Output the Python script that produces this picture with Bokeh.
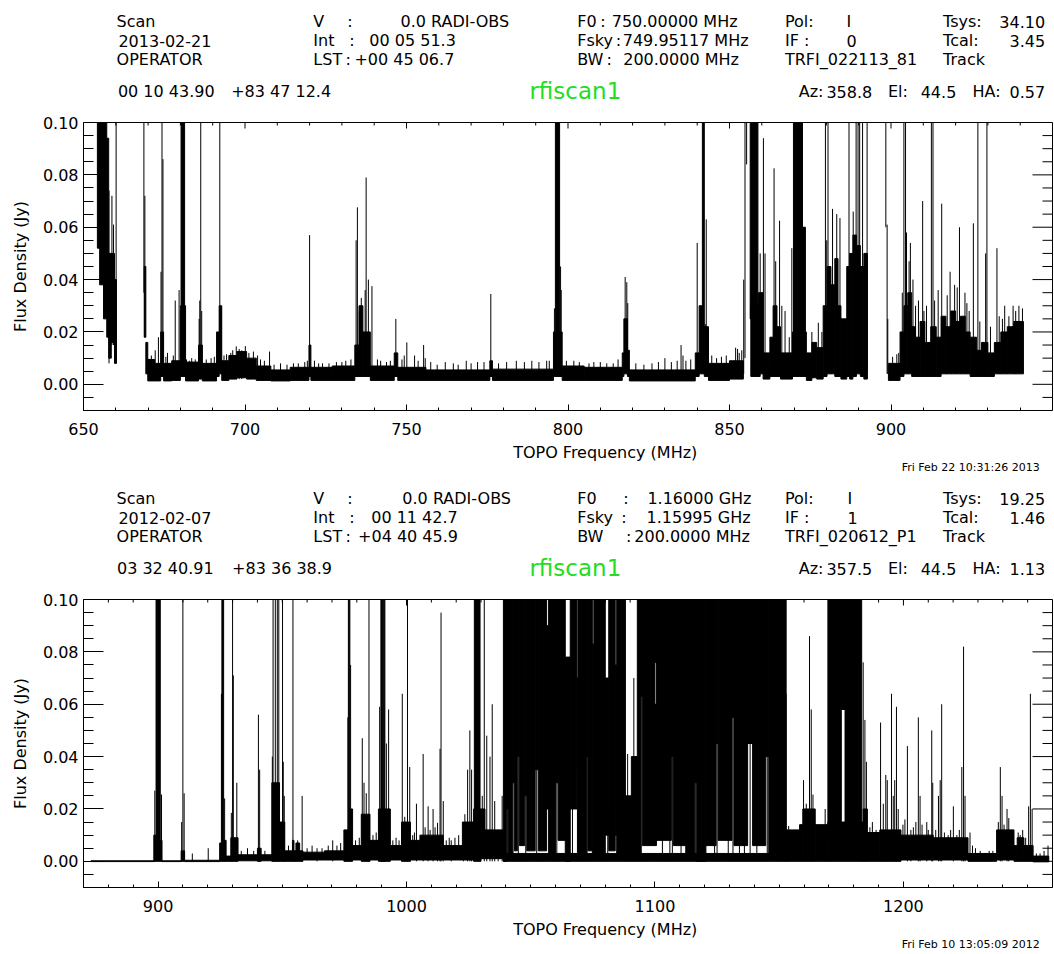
from bokeh.plotting import figure
from bokeh.layouts import column
from bokeh.models import Range1d, LinearAxis, FixedTicker, PrintfTickFormatter
from bokeh.core.properties import value
from bokeh.embed import file_html
from bokeh.resources import INLINE

FONT = "DejaVu Sans"
W = 1054

# ---------------- DATA ----------------
y_ticks = [0.0, 0.02, 0.04, 0.06, 0.08, 0.10]
y_minor = [-0.005, 0.005, 0.01, 0.015, 0.025, 0.03, 0.035, 0.045, 0.05, 0.055,
           0.065, 0.07, 0.075, 0.085, 0.09, 0.095]

top_xrange = (650, 950)
top_xticks = [650, 700, 750, 800, 850, 900]
top_xminor = [660, 670, 680, 690, 710, 720, 730, 740, 760, 770, 780, 790, 810, 820,
              830, 840, 860, 870, 880, 890, 910, 920, 930, 940]

bot_xrange = (870, 1260)
bot_xticks = [900, 1000, 1100, 1200]
bot_xminor = [880, 890, 910, 920, 930, 940, 950, 960, 970, 980, 990, 1010, 1020, 1030,
              1040, 1050, 1060, 1070, 1080, 1090, 1110, 1120, 1130, 1140, 1150, 1160,
              1170, 1180, 1190, 1210, 1220, 1230, 1240, 1250]

# Top spectrum: envelope blocks (f_start, f_end, low, high) [MHz, Jy]; 0.12 = off scale
top_bands = [
    (654.3, 655.0, 0.052, 0.12), (655.0, 656.2, 0.038, 0.12), (656.2, 657.2, 0.025, 0.12),
    (657.2, 657.8, 0.018, 0.094), (657.8, 658.6, 0.010, 0.050), (658.6, 659.6, 0.016, 0.050),
    (659.6, 660.2, 0.008, 0.040), (668.8, 669.3, 0.018, 0.045), (669.3, 669.9, 0.004, 0.016),
    (669.9, 672.0, 0.0013, 0.0095), (672.0, 673.9, 0.0013, 0.008), (673.9, 674.8, 0.003, 0.020),
    (674.8, 677.3, 0.0013, 0.008), (677.3, 680.0, 0.0015, 0.009), (680.0, 681.6, 0.003, 0.030),
    (680.2, 681.3, 0.030, 0.12), (681.6, 685.6, 0.0013, 0.0085), (685.6, 686.8, 0.002, 0.015),
    (686.8, 691.2, 0.0013, 0.008), (691.2, 692.0, 0.003, 0.020), (692.0, 692.8, 0.004, 0.030),
    (692.8, 695.0, 0.0015, 0.009), (695.0, 697.5, 0.002, 0.011), (697.5, 700.5, 0.0025, 0.0125),
    (700.5, 703.5, 0.002, 0.010), (703.5, 708.0, 0.0015, 0.007), (708.0, 714.0, 0.0013, 0.0055),
    (714.0, 719.8, 0.0015, 0.0065), (719.8, 720.4, 0.003, 0.015), (720.4, 727.0, 0.0015, 0.0065),
    (727.0, 734.0, 0.0015, 0.007), (734.0, 735.3, 0.003, 0.015), (735.3, 736.5, 0.003, 0.030),
    (736.5, 738.8, 0.003, 0.020), (738.8, 746.2, 0.0015, 0.007), (746.2, 747.3, 0.003, 0.012),
    (747.3, 756.0, 0.0015, 0.0065), (756.0, 775.8, 0.0015, 0.0055), (775.8, 776.6, 0.003, 0.009),
    (776.6, 795.5, 0.0015, 0.0058), (795.5, 796.1, 0.003, 0.020), (796.1, 797.4, 0.003, 0.12),
    (797.4, 798.2, 0.003, 0.020), (798.2, 805.0, 0.0015, 0.007), (805.0, 816.8, 0.0015, 0.0065),
    (816.8, 817.3, 0.003, 0.012), (817.3, 818.4, 0.004, 0.025), (818.4, 819.0, 0.003, 0.013),
    (819.0, 839.4, 0.0013, 0.0055), (839.4, 840.6, 0.003, 0.012), (840.6, 841.6, 0.004, 0.030),
    (841.6, 842.2, 0.004, 0.12), (842.2, 843.5, 0.003, 0.022), (843.5, 850.0, 0.0015, 0.008),
    (850.0, 854.3, 0.002, 0.009), (856.6, 859.5, 0.003, 0.030), (856.4, 857.6, 0.025, 0.12),
    (857.6, 858.8, 0.012, 0.12), (859.0, 860.4, 0.004, 0.035), (860.4, 862.5, 0.002, 0.012),
    (862.5, 863.5, 0.003, 0.018), (863.5, 864.7, 0.003, 0.030), (864.7, 865.8, 0.003, 0.022),
    (865.8, 869.5, 0.002, 0.012), (869.5, 873.8, 0.003, 0.020), (869.8, 872.6, 0.015, 0.12),
    (872.6, 873.5, 0.010, 0.060), (873.8, 875.5, 0.0015, 0.012), (875.5, 877.0, 0.0025, 0.016),
    (877.0, 879.0, 0.002, 0.014), (879.0, 880.2, 0.003, 0.030), (880.2, 881.4, 0.004, 0.045),
    (881.4, 882.6, 0.004, 0.038), (882.6, 883.6, 0.003, 0.048), (883.6, 884.5, 0.003, 0.030),
    (884.5, 886.3, 0.002, 0.025), (886.3, 887.2, 0.003, 0.045), (887.2, 888.2, 0.002, 0.050),
    (888.2, 889.3, 0.003, 0.057), (889.3, 890.5, 0.004, 0.053), (890.5, 891.6, 0.003, 0.045),
    (891.6, 892.7, 0.002, 0.050), (899.2, 902.8, 0.0015, 0.008), (902.8, 904.0, 0.003, 0.020),
    (904.0, 905.2, 0.004, 0.030), (905.2, 906.4, 0.004, 0.035), (906.4, 907.6, 0.003, 0.022),
    (907.6, 909.0, 0.003, 0.018), (909.0, 910.5, 0.003, 0.024), (910.5, 912.3, 0.003, 0.016),
    (912.3, 914.0, 0.003, 0.022), (914.0, 915.5, 0.003, 0.018), (915.5, 917.0, 0.004, 0.026),
    (917.0, 918.5, 0.004, 0.022), (918.5, 920.0, 0.004, 0.028), (920.0, 921.5, 0.004, 0.024),
    (921.5, 923.0, 0.004, 0.026), (923.0, 924.5, 0.004, 0.020), (924.5, 926.5, 0.003, 0.018),
    (926.5, 928.0, 0.003, 0.013), (928.0, 930.0, 0.003, 0.016), (930.0, 932.0, 0.003, 0.012),
    (932.0, 934.0, 0.004, 0.016), (934.0, 936.0, 0.004, 0.020), (936.0, 938.0, 0.004, 0.022),
    (938.0, 941.0, 0.004, 0.024),
]
# Top spectrum: single-channel spikes (freq, low, peak)
top_spikes = [
    (660.1, 0.008, 0.12), (657.9, 0.008, 0.074), (658.8, 0.015, 0.072), (659.3, 0.015, 0.061),
    (668.7, 0.035, 0.12), (669.0, 0.018, 0.072), (672.2, 0.005, 0.013), (673.2, 0.005, 0.018),
    (674.0, 0.008, 0.043), (674.3, 0.010, 0.12), (674.6, 0.010, 0.086), (676.0, 0.003, 0.012),
    (678.4, 0.004, 0.032), (679.6, 0.005, 0.036), (680.0, 0.010, 0.028), (682.8, 0.003, 0.009),
    (685.8, 0.005, 0.025), (686.0, 0.005, 0.032), (686.3, 0.005, 0.12), (686.6, 0.005, 0.028),
    (692.2, 0.005, 0.12), (692.6, 0.005, 0.029), (695.6, 0.004, 0.012), (697.3, 0.005, 0.0145),
    (700.1, 0.005, 0.0146), (702.6, 0.004, 0.0125), (707.6, 0.003, 0.0125), (711.0, 0.003, 0.008),
    (716.5, 0.003, 0.008), (720.0, 0.003, 0.057), (724.0, 0.003, 0.008), (730.0, 0.003, 0.0085),
    (734.4, 0.005, 0.055), (734.8, 0.005, 0.0676), (735.4, 0.005, 0.028), (736.0, 0.005, 0.033),
    (737.2, 0.005, 0.036), (737.5, 0.005, 0.079), (738.2, 0.005, 0.040), (739.3, 0.004, 0.0375),
    (742.0, 0.003, 0.009), (746.7, 0.004, 0.025), (750.1, 0.003, 0.016), (752.5, 0.003, 0.011),
    (755.3, 0.003, 0.015), (755.8, 0.003, 0.010), (762.0, 0.003, 0.0085), (768.5, 0.003, 0.009),
    (772.0, 0.003, 0.0085), (776.1, 0.003, 0.0345), (784.0, 0.003, 0.009), (788.8, 0.003, 0.009),
    (793.4, 0.003, 0.009), (795.8, 0.005, 0.029), (797.7, 0.005, 0.045), (797.9, 0.005, 0.036),
    (801.8, 0.003, 0.009), (810.0, 0.003, 0.0085), (814.0, 0.003, 0.008), (817.7, 0.005, 0.041),
    (818.2, 0.005, 0.039), (818.5, 0.005, 0.031), (830.0, 0.003, 0.010), (835.0, 0.003, 0.015),
    (835.6, 0.003, 0.011), (836.5, 0.003, 0.009), (840.0, 0.004, 0.054), (842.5, 0.004, 0.023),
    (842.8, 0.004, 0.063), (846.0, 0.003, 0.010), (849.0, 0.003, 0.011), (851.9, 0.004, 0.014),
    (853.0, 0.004, 0.012), (853.8, 0.004, 0.013), (854.4, 0.004, 0.040), (854.8, 0.010, 0.12),
    (855.3, 0.084, 0.12), (859.5, 0.005, 0.050), (860.5, 0.005, 0.094), (861.0, 0.004, 0.050),
    (863.8, 0.005, 0.0825), (864.3, 0.005, 0.047), (865.5, 0.005, 0.0625), (866.2, 0.004, 0.030),
    (867.2, 0.004, 0.028), (868.5, 0.004, 0.018), (869.3, 0.004, 0.052), (873.0, 0.010, 0.060),
    (875.5, 0.004, 0.020), (876.5, 0.004, 0.016), (877.5, 0.004, 0.0235), (878.6, 0.004, 0.020),
    (879.7, 0.005, 0.12), (880.1, 0.005, 0.055), (880.5, 0.005, 0.12), (881.9, 0.005, 0.067),
    (883.2, 0.005, 0.065), (884.2, 0.005, 0.0635), (887.0, 0.005, 0.12), (888.3, 0.005, 0.066),
    (889.2, 0.005, 0.12), (889.8, 0.005, 0.12), (890.3, 0.005, 0.12), (891.2, 0.005, 0.12),
    (892.6, 0.005, 0.12), (898.4, 0.060, 0.12), (898.8, 0.004, 0.061), (899.0, 0.004, 0.025),
    (903.5, 0.005, 0.035), (904.0, 0.005, 0.12), (904.5, 0.005, 0.12), (904.8, 0.005, 0.058),
    (905.6, 0.005, 0.047), (906.0, 0.005, 0.054), (906.8, 0.005, 0.040), (907.6, 0.004, 0.030),
    (908.5, 0.005, 0.032), (909.8, 0.005, 0.070), (910.2, 0.004, 0.028), (911.0, 0.005, 0.030),
    (912.5, 0.005, 0.12), (913.0, 0.005, 0.12), (913.5, 0.004, 0.032), (914.6, 0.004, 0.036),
    (915.7, 0.005, 0.069), (917.4, 0.004, 0.034), (918.3, 0.005, 0.043), (919.7, 0.005, 0.038),
    (920.5, 0.004, 0.037), (921.2, 0.005, 0.060), (922.9, 0.005, 0.035), (923.5, 0.004, 0.031),
    (924.2, 0.005, 0.028), (925.5, 0.005, 0.0615), (926.9, 0.005, 0.12), (927.5, 0.004, 0.024),
    (929.3, 0.005, 0.050), (929.7, 0.005, 0.12), (930.8, 0.004, 0.022), (932.8, 0.005, 0.052),
    (933.5, 0.004, 0.026), (934.5, 0.005, 0.025), (935.2, 0.004, 0.030), (936.5, 0.005, 0.026),
    (937.8, 0.005, 0.030), (938.6, 0.004, 0.028), (939.6, 0.005, 0.030), (940.7, 0.005, 0.029),
]
# Top spectrum: small noise peaks on the baseline (freq, peak)
top_noise = [
    (671.0, 0.011), (675.5, 0.0105), (677.8, 0.011), (681.9, 0.0095), (683.5, 0.010),
    (684.6, 0.0095), (688.0, 0.0095), (689.5, 0.010), (690.5, 0.0105), (693.5, 0.011),
    (694.3, 0.0115), (696.2, 0.013), (698.2, 0.0135), (699.0, 0.013), (701.2, 0.012),
    (703.9, 0.011), (704.8, 0.0095), (706.0, 0.009), (709.0, 0.0075), (713.0, 0.0075),
    (715.0, 0.008), (718.5, 0.0085), (719.3, 0.009), (721.5, 0.009), (722.8, 0.008),
    (726.0, 0.008), (728.3, 0.0085), (731.2, 0.009), (732.8, 0.0095), (741.0, 0.0095),
    (743.8, 0.0085), (745.0, 0.009), (748.6, 0.0095), (749.3, 0.011), (753.6, 0.009),
    (757.5, 0.0085), (759.5, 0.0075), (764.5, 0.008), (766.0, 0.0075), (770.0, 0.008),
    (774.0, 0.0085), (778.5, 0.008), (781.0, 0.0085), (786.5, 0.0085), (791.0, 0.0085),
    (794.2, 0.009), (799.5, 0.009), (803.5, 0.0085), (806.5, 0.008), (808.0, 0.0085),
    (812.0, 0.008), (815.5, 0.0095), (821.0, 0.008), (823.5, 0.0075), (826.0, 0.008),
    (828.0, 0.0085), (832.0, 0.0085), (833.8, 0.009), (838.0, 0.0095), (844.5, 0.011),
    (847.5, 0.0105), (852.5, 0.0135), (900.5, 0.0105), (901.8, 0.0115), (902.4, 0.012),
]

# Bottom spectrum envelope blocks
bot_bands = [
    (873.0, 898.3, -0.0001, 0.0002), (898.3, 899.2, 0.0, 0.010), (899.2, 899.8, 0.0, 0.12),
    (899.8, 900.2, 0.0, 0.039), (900.2, 900.9, 0.0, 0.12), (900.9, 901.6, 0.0, 0.008),
    (901.6, 909.3, -0.0001, 0.0002), (909.3, 910.7, 0.0, 0.004), (910.7, 924.8, -0.0001, 0.0004),
    (924.8, 925.7, 0.0, 0.007), (925.7, 926.4, 0.0, 0.12), (926.4, 927.4, 0.0, 0.008),
    (927.4, 929.3, 0.0, 0.002), (929.3, 932.2, 0.0, 0.009), (932.2, 940.0, 0.0002, 0.0025),
    (940.0, 941.5, 0.0, 0.005), (941.5, 945.8, 0.0002, 0.0025), (945.8, 948.9, 0.0, 0.030),
    (948.9, 951.0, 0.0, 0.015), (951.0, 954.1, 0.0, 0.004), (954.1, 954.7, 0.0, 0.008),
    (954.7, 955.5, 0.0, 0.004), (955.5, 957.0, 0.0, 0.007), (957.0, 958.3, 0.0, 0.004),
    (958.3, 967.0, 0.0005, 0.0035), (967.0, 974.8, 0.0005, 0.004), (974.8, 976.6, 0.0, 0.012),
    (976.6, 977.2, 0.0, 0.12), (977.2, 978.3, 0.0, 0.020), (978.3, 981.8, 0.0005, 0.006),
    (981.8, 985.3, 0.0, 0.018), (985.3, 988.7, 0.0005, 0.008), (988.7, 993.5, 0.0, 0.020),
    (989.7, 990.3, 0.0, 0.12), (990.6, 991.3, 0.0, 0.12), (993.5, 998.0, 0.0005, 0.006),
    (998.0, 1001.6, 0.0, 0.015), (1001.6, 1005.4, 0.0005, 0.008), (1005.4, 1014.8, 0.0005, 0.010),
    (1014.8, 1022.5, 0.0005, 0.006), (1022.5, 1027.0, 0.0005, 0.015), (1027.0, 1030.0, 0.0, 0.020),
    (1027.3, 1029.6, 0.008, 0.12), (1030.0, 1031.6, 0.001, 0.020), (1031.6, 1039.0, 0.001, 0.012),
    (1039.0, 1153.0, 0.0, 0.003),
    (1039.0, 1040.2, 0.000, 0.12), (1040.2, 1041.0, 0.020, 0.12), (1041.0, 1042.6, 0.002, 0.12),
    (1042.6, 1043.4, 0.030, 0.12), (1043.4, 1044.6, 0.004, 0.12), (1044.6, 1045.4, 0.040, 0.12),
    (1045.4, 1047.6, 0.006, 0.12), (1047.6, 1048.4, 0.025, 0.12), (1048.4, 1051.8, 0.004, 0.12),
    (1051.8, 1053.0, 0.035, 0.12), (1053.0, 1056.4, 0.004, 0.12), (1056.4, 1057.2, 0.020, 0.090),
    (1057.2, 1060.0, 0.002, 0.12), (1060.0, 1061.0, 0.030, 0.12), (1061.0, 1063.9, 0.008, 0.12),
    (1063.9, 1065.9, 0.000, 0.078), (1065.9, 1068.6, 0.020, 0.12), (1068.6, 1069.0, 0.035, 0.070),
    (1069.0, 1072.4, 0.003, 0.12), (1072.4, 1073.0, 0.040, 0.12), (1073.0, 1074.8, 0.004, 0.12),
    (1074.8, 1075.4, 0.002, 0.083), (1075.4, 1080.0, 0.003, 0.12), (1080.0, 1081.4, 0.010, 0.070),
    (1081.4, 1084.0, 0.004, 0.12), (1084.0, 1084.6, 0.010, 0.075), (1084.6, 1088.1, 0.003, 0.12),
    (1088.1, 1090.5, 0.001, 0.025), (1090.5, 1092.9, 0.003, 0.040), (1092.9, 1094.2, 0.003, 0.12),
    (1094.2, 1094.9, 0.063, 0.12), (1094.9, 1100.0, 0.006, 0.12), (1100.0, 1100.6, 0.006, 0.060),
    (1100.0, 1100.6, 0.076, 0.12), (1100.6, 1104.3, 0.008, 0.12), (1104.3, 1106.6, 0.008, 0.12),
    (1106.6, 1107.4, 0.040, 0.12), (1107.4, 1112.4, 0.006, 0.12), (1112.4, 1116.0, 0.001, 0.12),
    (1116.0, 1116.8, 0.030, 0.12), (1116.8, 1120.5, 0.000, 0.12), (1120.5, 1124.6, 0.006, 0.12),
    (1124.6, 1125.4, 0.045, 0.12), (1125.4, 1128.5, 0.008, 0.12), (1128.5, 1131.0, 0.008, 0.12),
    (1131.0, 1131.8, 0.055, 0.12), (1131.8, 1137.3, 0.006, 0.12), (1137.3, 1139.3, 0.045, 0.12),
    (1139.3, 1144.6, 0.006, 0.12), (1144.6, 1145.8, 0.040, 0.12), (1145.8, 1152.8, 0.003, 0.12),
    (1152.8, 1158.2, 0.0, 0.012), (1158.2, 1159.5, 0.0, 0.014), (1159.5, 1164.5, 0.0, 0.020),
    (1164.5, 1169.6, 0.0, 0.014), (1169.6, 1183.8, 0.0, 0.015), (1169.6, 1175.0, 0.008, 0.12),
    (1175.0, 1176.5, 0.058, 0.12), (1176.5, 1183.2, 0.010, 0.12), (1183.8, 1185.5, 0.0, 0.020),
    (1185.5, 1190.5, 0.0, 0.011), (1190.5, 1199.0, 0.0, 0.012), (1199.0, 1212.0, 0.0005, 0.010),
    (1212.0, 1226.0, 0.0005, 0.009), (1226.0, 1237.5, 0.0, 0.003), (1237.5, 1244.5, 0.0005, 0.012),
    (1244.5, 1245.8, 0.0, 0.006), (1245.8, 1248.5, 0.0, 0.009), (1248.5, 1252.2, 0.0, 0.006),
    (1252.2, 1258.5, -0.0002, 0.002),
]
# Bottom spectrum spikes (freq, low, peak)
bot_spikes = [
    (898.7, 0.0, 0.027), (901.4, 0.0, 0.0255), (909.5, 0.0, 0.015), (910.0, 0.0, 0.12),
    (910.5, 0.0, 0.026), (913.8, 0.0, 0.003), (920.2, 0.0, 0.005), (925.5, 0.0, 0.064),
    (926.8, 0.0, 0.024), (929.5, 0.0, 0.0185), (930.0, 0.0, 0.12), (930.3, 0.0, 0.071),
    (931.7, 0.0, 0.030), (940.4, 0.0, 0.056), (940.9, 0.0, 0.035), (946.0, 0.0, 0.040),
    (946.3, 0.0, 0.12), (947.2, 0.0, 0.12), (948.0, 0.0, 0.12), (948.6, 0.0, 0.12),
    (950.1, 0.0, 0.12), (950.4, 0.0, 0.038), (950.8, 0.0, 0.025), (954.3, 0.0, 0.12),
    (958.0, 0.0, 0.025), (964.0, 0.0, 0.005), (970.3, 0.0, 0.008), (976.4, 0.0, 0.055),
    (977.5, 0.0, 0.075), (982.2, 0.0, 0.047), (982.9, 0.0, 0.030), (983.8, 0.0, 0.026),
    (984.5, 0.0, 0.0147), (984.9, 0.0, 0.12), (989.2, 0.0, 0.059), (991.9, 0.0, 0.045),
    (992.8, 0.0, 0.058), (998.3, 0.0, 0.064), (999.3, 0.0, 0.017), (1000.4, 0.0, 0.12),
    (1001.3, 0.0, 0.036), (1004.0, 0.0, 0.022), (1006.7, 0.0, 0.041), (1008.7, 0.0, 0.021),
    (1010.7, 0.0, 0.020), (1012.5, 0.0, 0.0147), (1013.5, 0.0, 0.043), (1013.9, 0.0, 0.095),
    (1014.8, 0.0, 0.023), (1018.0, 0.0, 0.008), (1022.9, 0.0, 0.013), (1024.6, 0.0, 0.035),
    (1025.5, 0.0, 0.050), (1026.2, 0.0, 0.035), (1031.3, 0.0, 0.12), (1032.3, 0.0, 0.048),
    (1033.6, 0.0, 0.040), (1034.5, 0.0, 0.060), (1035.5, 0.0, 0.023), (1036.9, 0.0, 0.0121),
    (1038.5, 0.0, 0.025), (1040.6, 0.0, 0.020), (1042.9, 0.0, 0.030), (1045.0, 0.0, 0.040),
    (1048.0, 0.0, 0.025), (1052.4, 0.0, 0.035), (1060.5, 0.0, 0.030), (1066.8, 0.0, 0.020),
    (1068.8, 0.0, 0.035), (1072.7, 0.0, 0.040), (1081.0, 0.0, 0.020), (1089.0, 0.0, 0.041),
    (1091.5, 0.0, 0.070), (1094.5, 0.0, 0.065), (1103.0, 0.0, 0.015), (1106.0, 0.0, 0.030),
    (1107.0, 0.0, 0.040), (1110.5, 0.0, 0.030), (1116.4, 0.0, 0.030), (1124.0, 0.0, 0.020),
    (1125.0, 0.0, 0.045), (1129.5, 0.0, 0.020), (1131.4, 0.0, 0.055), (1134.0, 0.0, 0.020),
    (1136.0, 0.0, 0.020), (1138.3, 0.0, 0.045), (1141.0, 0.0, 0.015), (1145.2, 0.0, 0.040),
    (1150.1, 0.0, 0.010), (1152.8, 0.0, 0.064), (1153.8, 0.0, 0.0135), (1159.8, 0.0, 0.031),
    (1160.9, 0.0, 0.022), (1162.2, 0.0, 0.086), (1162.9, 0.0, 0.058), (1163.6, 0.0, 0.0255),
    (1164.2, 0.0, 0.020), (1168.5, 0.0, 0.020), (1183.8, 0.0, 0.076), (1184.5, 0.0, 0.054),
    (1185.1, 0.0, 0.038), (1190.8, 0.0, 0.053), (1191.9, 0.0, 0.022), (1192.9, 0.0, 0.033),
    (1193.5, 0.0, 0.031), (1195.2, 0.0, 0.064), (1195.9, 0.0, 0.025), (1196.5, 0.0, 0.031),
    (1197.2, 0.0, 0.059), (1197.9, 0.0, 0.020), (1198.6, 0.0, 0.012), (1201.6, 0.0, 0.044),
    (1203.0, 0.0, 0.012), (1206.0, 0.0, 0.055), (1206.7, 0.0, 0.025), (1209.4, 0.0, 0.015),
    (1211.4, 0.0, 0.050), (1211.8, 0.0, 0.030), (1214.1, 0.0, 0.025), (1214.8, 0.0, 0.031),
    (1215.4, 0.0, 0.060), (1220.1, 0.0, 0.021), (1223.5, 0.0, 0.036), (1224.2, 0.0, 0.082),
    (1224.8, 0.0, 0.025), (1226.8, 0.0, 0.011), (1230.9, 0.0, 0.004), (1232.9, 0.0, 0.003),
    (1239.0, 0.0, 0.036), (1239.7, 0.0, 0.025), (1241.7, 0.0, 0.020), (1242.4, 0.0, 0.0165),
    (1247.0, 0.0, 0.010), (1250.4, 0.0, 0.021), (1251.1, 0.0, 0.064), (1251.8, 0.0, 0.020),
    (1258.2, 0.0, 0.006),
]
# Bottom spectrum: small noise peaks on the baseline (freq, peak)
bot_noise = [
    (933.5, 0.004), (936.0, 0.005), (938.5, 0.004), (943.0, 0.004), (952.5, 0.006),
    (956.2, 0.008), (960.0, 0.005), (962.0, 0.006), (966.0, 0.005), (968.5, 0.006),
    (972.0, 0.006), (973.5, 0.007), (979.5, 0.008), (981.0, 0.009), (986.5, 0.010),
    (987.8, 0.011), (994.5, 0.008), (995.8, 0.009), (997.0, 0.008), (1002.5, 0.010),
    (1003.2, 0.011), (1007.5, 0.013), (1009.5, 0.012), (1011.5, 0.013), (1016.0, 0.008),
    (1017.2, 0.009), (1019.5, 0.009), (1021.0, 0.010), (1023.5, 0.018), (1030.5, 0.025),
    (1186.5, 0.013), (1187.5, 0.015), (1189.0, 0.012), (1199.8, 0.014), (1200.6, 0.016),
    (1204.0, 0.013), (1205.0, 0.015), (1207.5, 0.014), (1210.0, 0.012), (1213.0, 0.012),
    (1216.5, 0.011), (1218.0, 0.010), (1219.0, 0.012), (1221.5, 0.010), (1222.5, 0.012),
    (1227.8, 0.006), (1229.0, 0.005), (1234.5, 0.004), (1236.0, 0.004), (1238.2, 0.015),
    (1240.5, 0.014), (1243.3, 0.012), (1244.0, 0.010), (1246.2, 0.011), (1248.0, 0.012),
    (1249.2, 0.009), (1253.5, 0.003), (1255.0, 0.003), (1256.6, 0.004),
]

# header texts: (x, row, text, align)
top_header = [
    (36, 1, "Scan", "left"), (250, 1, "V", "left"), (287, 1, ":", "left"),
    (463, 1, "0.0 RADI-OBS", "right"), (537, 1, "F0", "left"), (562, 1, ":", "left"),
    (643, 1, "750.00000 MHz", "center"), (763, 1, "Pol:", "left"), (830, 1, "I", "left"),
    (935, 1, "Tsys:", "left"), (1046, 1, "34.10", "right"),
    (38, 2, "2013-02-21", "left"), (250, 2, "Int", "left"), (289, 2, ":", "left"),
    (358, 2, "00 05 51.3", "center"), (537, 2, "Fsky", "left"), (579, 2, ":", "left"),
    (655, 2, "749.95117 MHz", "center"), (763, 2, "IF :", "left"), (830, 2, "0", "left"),
    (935, 2, "Tcal:", "left"), (1046, 2, "3.45", "right"),
    (36, 3, "OPERATOR", "left"), (250, 3, "LST", "left"), (285, 3, ":", "left"),
    (349, 3, "+00 45 06.7", "center"), (537, 3, "BW", "left"), (569, 3, ":", "left"),
    (650, 3, "200.0000 MHz", "center"), (763, 3, "TRFI_022113_81", "left"),
    (935, 3, "Track", "left"),
    (90, 4, "00 10 43.90", "center"), (215, 4, "+83 47 12.4", "center"),
    (778, 4, "Az:", "left"), (833, 4, "358.8", "center"), (875, 4, "El:", "left"),
    (930, 4, "44.5", "center"), (967, 4, "HA:", "left"), (1046, 4, "0.57", "right"),
]
bot_header = [
    (36, 1, "Scan", "left"), (250, 1, "V", "left"), (287, 1, ":", "left"),
    (465, 1, "0.0 RADI-OBS", "right"), (537, 1, "F0", "left"), (587, 1, ":", "left"),
    (670, 1, "1.16000 GHz", "center"), (763, 1, "Pol:", "left"), (831, 1, "I", "left"),
    (935, 1, "Tsys:", "left"), (1046, 1, "19.25", "right"),
    (38, 2, "2012-02-07", "left"), (250, 2, "Int", "left"), (289, 2, ":", "left"),
    (360, 2, "00 11 42.7", "center"), (537, 2, "Fsky", "left"), (585, 2, ":", "left"),
    (669, 2, "1.15995 GHz", "center"), (763, 2, "IF :", "left"), (831, 2, "1", "left"),
    (935, 2, "Tcal:", "left"), (1046, 2, "1.46", "right"),
    (36, 3, "OPERATOR", "left"), (250, 3, "LST", "left"), (285, 3, ":", "left"),
    (353, 3, "+04 40 45.9", "center"), (537, 3, "BW", "left"), (590, 3, ":", "left"),
    (662, 3, "200.0000 MHz", "center"), (763, 3, "TRFI_020612_P1", "left"),
    (935, 3, "Track", "left"),
    (89, 4, "03 32 40.91", "center"), (216, 4, "+83 36 38.9", "center"),
    (778, 4, "Az:", "left"), (833, 4, "357.5", "center"), (875, 4, "El:", "left"),
    (930, 4, "44.5", "center"), (967, 4, "HA:", "left"), (1046, 4, "1.13", "right"),
]
source_name = "rfiscan1"
x_title = "TOPO Frequency (MHz)"
y_title = "Flux Density (Jy)"
top_stamp = "Fri Feb 22 10:31:26 2013"
bot_stamp = "Fri Feb 10 13:05:09 2012"

# ---------------- BUILD ----------------
ROW_Y = {1: 21, 2: 40, 3: 59, 4: 91}
FRAME_W, FRAME_H = 969, 288


def no_grid(f):
    for g in f.grid:
        g.visible = False


def text_fig(h):
    f = figure(width=W, height=h, x_range=Range1d(0, W), y_range=Range1d(h, 0),
               min_border=0, toolbar_location=None, output_backend="svg",
               x_axis_location=None, y_axis_location=None, title=None)
    f.outline_line_color = None
    f.background_fill_color = "white"
    f.border_fill_color = "white"
    no_grid(f)
    return f


def put(f, items, align="left", size="16px", color="black"):
    if not items:
        return
    f.text(x=[i[0] for i in items], y=[i[1] for i in items], text=[i[2] for i in items],
           text_font=value(FONT), text_font_size=value(size), text_color=color,
           text_align=align, text_baseline="middle")


def header(items):
    f = text_fig(110)
    for al in ("left", "center", "right"):
        put(f, [(x, ROW_Y[r], t) for (x, r, t, a) in items if a == al], align=al)
    put(f, [(535, ROW_Y[4] - 1, source_name)], align="center", size="23px", color="#22dd22")
    return f


def left_axis():
    ax = LinearAxis(ticker=FixedTicker(ticks=y_ticks, minor_ticks=y_minor))
    ax.major_tick_in, ax.major_tick_out = 20, 0
    ax.minor_tick_in, ax.minor_tick_out = 10, 0
    ax.formatter = PrintfTickFormatter(format="%.2f")
    ax.major_label_text_font = FONT
    ax.major_label_text_font_size = "16px"
    ax.major_label_standoff = 5
    ax.axis_label = y_title
    ax.axis_label_text_font = FONT
    ax.axis_label_text_font_size = "16px"
    ax.axis_label_text_font_style = "normal"
    ax.axis_label_standoff = 10
    for a in ("axis_line_color", "major_tick_line_color", "minor_tick_line_color",
              "major_label_text_color", "axis_label_text_color"):
        setattr(ax, a, "black")
    return ax


def bottom_axis(xt, xm):
    ax = LinearAxis(ticker=FixedTicker(ticks=xt, minor_ticks=xm))
    ax.major_tick_in, ax.major_tick_out = 6, 0
    ax.minor_tick_in, ax.minor_tick_out = 3, 0
    ax.major_label_text_font = FONT
    ax.major_label_text_font_size = "16px"
    ax.major_label_standoff = 12
    for a in ("axis_line_color", "major_tick_line_color", "minor_tick_line_color",
              "major_label_text_color"):
        setattr(ax, a, "black")
    return ax


def plot(xr, xt, xm, bands, spikes, noise):
    p = figure(width=W, height=333, x_range=Range1d(*xr), y_range=Range1d(-0.01, 0.10),
               min_border_left=83, min_border_right=2, min_border_top=12, min_border_bottom=33,
               toolbar_location=None, output_backend="svg", title=None,
               x_axis_location=None, y_axis_location=None)
    no_grid(p)
    p.outline_line_color = "black"
    p.outline_line_width = 1
    p.background_fill_color = "white"
    p.border_fill_color = "white"

    f0, f1, lo, hi = zip(*bands)
    p.quad(left=list(f0), right=list(f1), bottom=list(lo), top=list(hi),
           fill_color="black", line_color="black", line_width=1)
    sf, slo, shi = zip(*spikes)
    p.segment(x0=list(sf), y0=list(slo), x1=list(sf), y1=list(shi),
              line_color="black", line_width=1)
    nf, nh = zip(*noise)
    p.segment(x0=list(nf), y0=[0.002] * len(nf), x1=list(nf), y1=list(nh),
              line_color="black", line_width=1)

    p.add_layout(bottom_axis(xt, xm), "below")
    p.add_layout(left_axis(), "left")

    # mirrored inward ticks on the top and right frame edges (IDL style)
    ytop, xend = 0.10, xr[1]
    dy = (0.10 - (-0.01)) / FRAME_H
    dx = (xr[1] - xr[0]) / FRAME_W
    tx = list(xt) + list(xm)
    tl = [6] * len(xt) + [3] * len(xm)
    p.segment(x0=tx, y0=[ytop] * len(tx), x1=tx, y1=[ytop - L * dy for L in tl],
              line_color="black", line_width=1)
    ty = list(y_ticks) + list(y_minor)
    yl = [20] * len(y_ticks) + [10] * len(y_minor)
    p.segment(x0=[xend] * len(ty), y0=ty, x1=[xend - L * dx for L in yl], y1=ty,
              line_color="black", line_width=1)
    return p


def footer(stamp):
    f = text_fig(34)
    put(f, [(567.5, 9, x_title)], align="center")
    put(f, [(1040, 23.5, stamp)], align="right", size="11px")
    return f


layout = column(
    header(top_header),
    plot(top_xrange, top_xticks, top_xminor, top_bands, top_spikes, top_noise),
    footer(top_stamp),
    header(bot_header),
    plot(bot_xrange, bot_xticks, bot_xminor, bot_bands, bot_spikes, bot_noise),
    footer(bot_stamp),
    spacing=0,
)

open("out.html", "w").write(file_html(layout, INLINE))
